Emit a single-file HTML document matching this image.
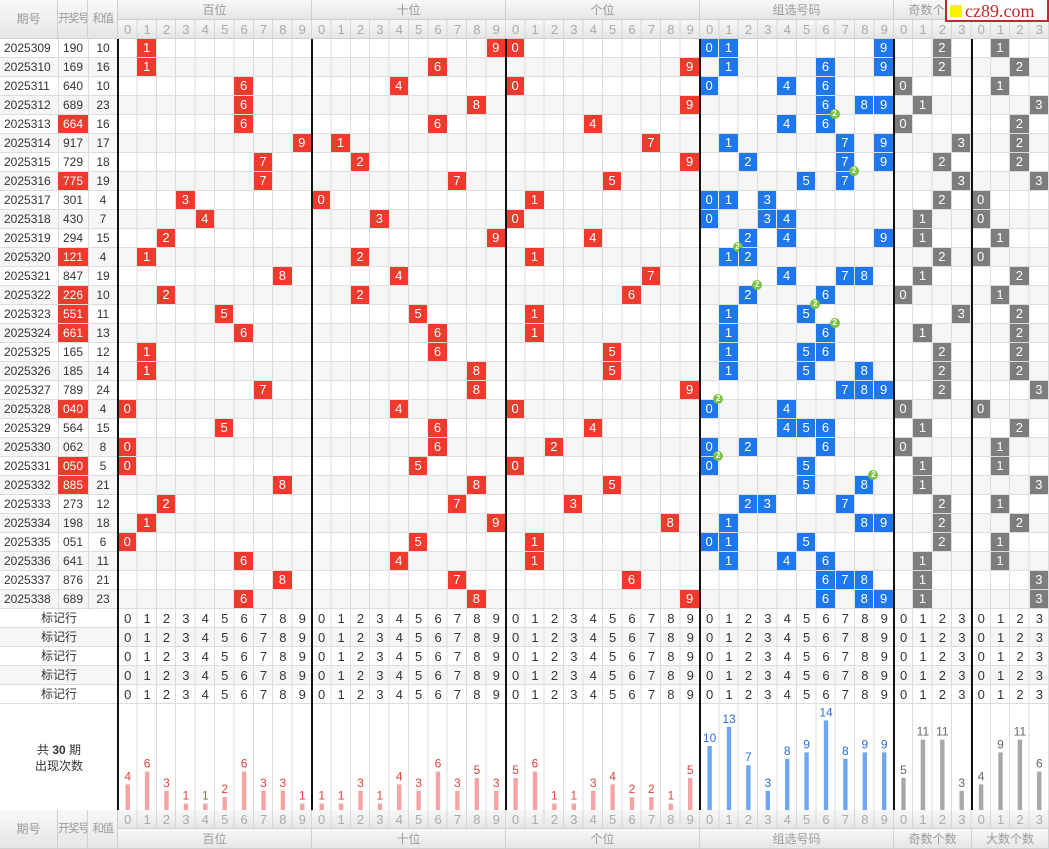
<!DOCTYPE html>
<html><head><meta charset="utf-8"><style>
*{margin:0;padding:0;box-sizing:border-box}
html,body{width:1049px;height:849px;overflow:hidden}
body{position:relative;background:#fff;font-family:"Liberation Sans","Noto Sans CJK SC",sans-serif;color:#333}
.abs{position:absolute}
.hd{position:absolute;background:linear-gradient(#f8f8f8,#e6e6e6);color:#9a9a9a;font-size:12px;text-align:center;border-right:1px solid #d0d0d0;border-bottom:1px solid #d0d0d0;white-space:nowrap;overflow:hidden}
.hd.n{letter-spacing:-1.5px;font-size:11.5px}
.grid{position:absolute;left:118px;top:39px;width:931px;height:771px;
background:repeating-linear-gradient(90deg,transparent 0,transparent 18.396px,#dcdcdc 18.396px,#dcdcdc 19.396px)}
.hl{position:absolute;left:0;top:39px;width:1049px;height:665px;
background:repeating-linear-gradient(180deg,transparent 0,transparent 18px,#dcdcdc 18px,#dcdcdc 19px),repeating-linear-gradient(180deg,#fff 0,#fff 19px,#f6f6f6 19px,#f6f6f6 38px)}
.sep{position:absolute;top:39px;height:771px;width:2px;background:#111}
.lv{position:absolute;top:39px;height:571px;width:1px;background:#dcdcdc}
.L{position:absolute;left:0;height:19px;display:flex;font-size:12px;line-height:19px}
.L span{display:block;text-align:center}
.L span:nth-child(1){width:58px;text-align:left;padding-left:4px}
.L span:nth-child(2){width:30px}
.L span:nth-child(3){width:30px}
.L span.h{background:#f03a2e;color:#fff;height:18px}
.c{position:absolute;width:18.4px;height:18px;left:calc(118px + var(--c)*19.396px);top:calc(39px + var(--r)*19px);color:#fff;font-size:13px;line-height:18px;text-align:center;font-style:normal}
.r{background:#f03a2e}.b{background:#1f77ee}.g{background:#7d7d7d}
.bd{position:absolute;right:-5px;top:-6px;width:10px;height:10px;border-radius:50%;background:#7cc242;color:#fff;font-size:8px;line-height:10px;text-align:center;font-weight:bold}
.dg{position:absolute;left:118px;white-space:nowrap;font-size:13px;letter-spacing:12.168px;padding-left:6.08px;line-height:19px}
.mk{position:absolute;left:0;width:118px;text-align:center;font-size:12px;line-height:19px}
</style></head><body>
<div class="hl"></div>
<div class="grid"></div>
<div class="lv" style="left:58px"></div><div class="lv" style="left:88px"></div>
<div class="abs" style="left:0;top:704px;width:118px;height:106px;background:#fff"></div>
<div class="abs" style="left:0;top:608px;width:1049px;height:1px;background:#dcdcdc"></div>
<div class="abs" style="left:0;top:703px;width:1049px;height:1px;background:#dcdcdc"></div>

<!-- header -->
<div class="hd" style="left:0;top:0;width:58px;height:39px;line-height:39px">期号</div>
<div class="hd n" style="left:58px;top:0;width:30px;height:39px;line-height:39px">开奖号</div>
<div class="hd n" style="left:88px;top:0;width:30px;height:39px;line-height:39px">和值</div>
<div class="hd" style="left:118px;top:0;width:194px;height:20px;line-height:20px">百位</div>
<div class="hd" style="left:312px;top:0;width:194px;height:20px;line-height:20px">十位</div>
<div class="hd" style="left:506px;top:0;width:194px;height:20px;line-height:20px">个位</div>
<div class="hd" style="left:700px;top:0;width:194px;height:20px;line-height:20px">组选号码</div>
<div class="hd" style="left:894px;top:0;width:78px;height:20px;line-height:20px">奇数个数</div>
<div class="hd" style="left:972px;top:0;width:77px;height:20px;line-height:20px">大数个数</div>
<div class="hd" style="left:118px;top:20px;width:931px;height:19px;border-right:none;background:repeating-linear-gradient(90deg,transparent 0,transparent 18.396px,#d6d6d6 18.396px,#d6d6d6 19.396px),linear-gradient(#f8f8f8,#e6e6e6)"></div>
<div class="dg" style="top:20px;color:#aaa">012345678901234567890123456789012345678901230123</div>

<!-- footer -->
<div class="hd" style="left:0;top:810px;width:58px;height:39px;line-height:39px">期号</div>
<div class="hd n" style="left:58px;top:810px;width:30px;height:39px;line-height:39px">开奖号</div>
<div class="hd n" style="left:88px;top:810px;width:30px;height:39px;line-height:39px">和值</div>
<div class="hd" style="left:118px;top:810px;width:931px;height:19px;border-right:none;background:repeating-linear-gradient(90deg,transparent 0,transparent 18.396px,#d6d6d6 18.396px,#d6d6d6 19.396px),linear-gradient(#f8f8f8,#e6e6e6)"></div>
<div class="dg" style="top:810px;color:#aaa">012345678901234567890123456789012345678901230123</div>
<div class="hd" style="left:118px;top:829px;width:194px;height:20px;line-height:20px">百位</div>
<div class="hd" style="left:312px;top:829px;width:194px;height:20px;line-height:20px">十位</div>
<div class="hd" style="left:506px;top:829px;width:194px;height:20px;line-height:20px">个位</div>
<div class="hd" style="left:700px;top:829px;width:194px;height:20px;line-height:20px">组选号码</div>
<div class="hd" style="left:894px;top:829px;width:78px;height:20px;line-height:20px">奇数个数</div>
<div class="hd" style="left:972px;top:829px;width:77px;height:20px;line-height:20px">大数个数</div>

<!-- left data -->
<div class="L" style="top:39px"><span>2025309</span><span>190</span><span>10</span></div>
<div class="L" style="top:58px"><span>2025310</span><span>169</span><span>16</span></div>
<div class="L" style="top:77px"><span>2025311</span><span>640</span><span>10</span></div>
<div class="L" style="top:96px"><span>2025312</span><span>689</span><span>23</span></div>
<div class="L" style="top:115px"><span>2025313</span><span class="h">664</span><span>16</span></div>
<div class="L" style="top:134px"><span>2025314</span><span>917</span><span>17</span></div>
<div class="L" style="top:153px"><span>2025315</span><span>729</span><span>18</span></div>
<div class="L" style="top:172px"><span>2025316</span><span class="h">775</span><span>19</span></div>
<div class="L" style="top:191px"><span>2025317</span><span>301</span><span>4</span></div>
<div class="L" style="top:210px"><span>2025318</span><span>430</span><span>7</span></div>
<div class="L" style="top:229px"><span>2025319</span><span>294</span><span>15</span></div>
<div class="L" style="top:248px"><span>2025320</span><span class="h">121</span><span>4</span></div>
<div class="L" style="top:267px"><span>2025321</span><span>847</span><span>19</span></div>
<div class="L" style="top:286px"><span>2025322</span><span class="h">226</span><span>10</span></div>
<div class="L" style="top:305px"><span>2025323</span><span class="h">551</span><span>11</span></div>
<div class="L" style="top:324px"><span>2025324</span><span class="h">661</span><span>13</span></div>
<div class="L" style="top:343px"><span>2025325</span><span>165</span><span>12</span></div>
<div class="L" style="top:362px"><span>2025326</span><span>185</span><span>14</span></div>
<div class="L" style="top:381px"><span>2025327</span><span>789</span><span>24</span></div>
<div class="L" style="top:400px"><span>2025328</span><span class="h">040</span><span>4</span></div>
<div class="L" style="top:419px"><span>2025329</span><span>564</span><span>15</span></div>
<div class="L" style="top:438px"><span>2025330</span><span>062</span><span>8</span></div>
<div class="L" style="top:457px"><span>2025331</span><span class="h">050</span><span>5</span></div>
<div class="L" style="top:476px"><span>2025332</span><span class="h">885</span><span>21</span></div>
<div class="L" style="top:495px"><span>2025333</span><span>273</span><span>12</span></div>
<div class="L" style="top:514px"><span>2025334</span><span>198</span><span>18</span></div>
<div class="L" style="top:533px"><span>2025335</span><span>051</span><span>6</span></div>
<div class="L" style="top:552px"><span>2025336</span><span>641</span><span>11</span></div>
<div class="L" style="top:571px"><span>2025337</span><span>876</span><span>21</span></div>
<div class="L" style="top:590px"><span>2025338</span><span>689</span><span>23</span></div>

<!-- cells -->
<i class="c r" style="--c:1;--r:0">1</i><i class="c r" style="--c:19;--r:0">9</i><i class="c r" style="--c:20;--r:0">0</i><i class="c b" style="--c:30;--r:0">0</i><i class="c b" style="--c:31;--r:0">1</i><i class="c b" style="--c:39;--r:0">9</i><i class="c g" style="--c:42;--r:0">2</i><i class="c g" style="--c:45;--r:0">1</i>
<i class="c r" style="--c:1;--r:1">1</i><i class="c r" style="--c:16;--r:1">6</i><i class="c r" style="--c:29;--r:1">9</i><i class="c b" style="--c:31;--r:1">1</i><i class="c b" style="--c:36;--r:1">6</i><i class="c b" style="--c:39;--r:1">9</i><i class="c g" style="--c:42;--r:1">2</i><i class="c g" style="--c:46;--r:1">2</i>
<i class="c r" style="--c:6;--r:2">6</i><i class="c r" style="--c:14;--r:2">4</i><i class="c r" style="--c:20;--r:2">0</i><i class="c b" style="--c:30;--r:2">0</i><i class="c b" style="--c:34;--r:2">4</i><i class="c b" style="--c:36;--r:2">6</i><i class="c g" style="--c:40;--r:2">0</i><i class="c g" style="--c:45;--r:2">1</i>
<i class="c r" style="--c:6;--r:3">6</i><i class="c r" style="--c:18;--r:3">8</i><i class="c r" style="--c:29;--r:3">9</i><i class="c b" style="--c:36;--r:3">6</i><i class="c b" style="--c:38;--r:3">8</i><i class="c b" style="--c:39;--r:3">9</i><i class="c g" style="--c:41;--r:3">1</i><i class="c g" style="--c:47;--r:3">3</i>
<i class="c r" style="--c:6;--r:4">6</i><i class="c r" style="--c:16;--r:4">6</i><i class="c r" style="--c:24;--r:4">4</i><i class="c b" style="--c:34;--r:4">4</i><i class="c b" style="--c:36;--r:4">6<b class="bd">2</b></i><i class="c g" style="--c:40;--r:4">0</i><i class="c g" style="--c:46;--r:4">2</i>
<i class="c r" style="--c:9;--r:5">9</i><i class="c r" style="--c:11;--r:5">1</i><i class="c r" style="--c:27;--r:5">7</i><i class="c b" style="--c:31;--r:5">1</i><i class="c b" style="--c:37;--r:5">7</i><i class="c b" style="--c:39;--r:5">9</i><i class="c g" style="--c:43;--r:5">3</i><i class="c g" style="--c:46;--r:5">2</i>
<i class="c r" style="--c:7;--r:6">7</i><i class="c r" style="--c:12;--r:6">2</i><i class="c r" style="--c:29;--r:6">9</i><i class="c b" style="--c:32;--r:6">2</i><i class="c b" style="--c:37;--r:6">7</i><i class="c b" style="--c:39;--r:6">9</i><i class="c g" style="--c:42;--r:6">2</i><i class="c g" style="--c:46;--r:6">2</i>
<i class="c r" style="--c:7;--r:7">7</i><i class="c r" style="--c:17;--r:7">7</i><i class="c r" style="--c:25;--r:7">5</i><i class="c b" style="--c:35;--r:7">5</i><i class="c b" style="--c:37;--r:7">7<b class="bd">2</b></i><i class="c g" style="--c:43;--r:7">3</i><i class="c g" style="--c:47;--r:7">3</i>
<i class="c r" style="--c:3;--r:8">3</i><i class="c r" style="--c:10;--r:8">0</i><i class="c r" style="--c:21;--r:8">1</i><i class="c b" style="--c:30;--r:8">0</i><i class="c b" style="--c:31;--r:8">1</i><i class="c b" style="--c:33;--r:8">3</i><i class="c g" style="--c:42;--r:8">2</i><i class="c g" style="--c:44;--r:8">0</i>
<i class="c r" style="--c:4;--r:9">4</i><i class="c r" style="--c:13;--r:9">3</i><i class="c r" style="--c:20;--r:9">0</i><i class="c b" style="--c:30;--r:9">0</i><i class="c b" style="--c:33;--r:9">3</i><i class="c b" style="--c:34;--r:9">4</i><i class="c g" style="--c:41;--r:9">1</i><i class="c g" style="--c:44;--r:9">0</i>
<i class="c r" style="--c:2;--r:10">2</i><i class="c r" style="--c:19;--r:10">9</i><i class="c r" style="--c:24;--r:10">4</i><i class="c b" style="--c:32;--r:10">2</i><i class="c b" style="--c:34;--r:10">4</i><i class="c b" style="--c:39;--r:10">9</i><i class="c g" style="--c:41;--r:10">1</i><i class="c g" style="--c:45;--r:10">1</i>
<i class="c r" style="--c:1;--r:11">1</i><i class="c r" style="--c:12;--r:11">2</i><i class="c r" style="--c:21;--r:11">1</i><i class="c b" style="--c:31;--r:11">1<b class="bd">2</b></i><i class="c b" style="--c:32;--r:11">2</i><i class="c g" style="--c:42;--r:11">2</i><i class="c g" style="--c:44;--r:11">0</i>
<i class="c r" style="--c:8;--r:12">8</i><i class="c r" style="--c:14;--r:12">4</i><i class="c r" style="--c:27;--r:12">7</i><i class="c b" style="--c:34;--r:12">4</i><i class="c b" style="--c:37;--r:12">7</i><i class="c b" style="--c:38;--r:12">8</i><i class="c g" style="--c:41;--r:12">1</i><i class="c g" style="--c:46;--r:12">2</i>
<i class="c r" style="--c:2;--r:13">2</i><i class="c r" style="--c:12;--r:13">2</i><i class="c r" style="--c:26;--r:13">6</i><i class="c b" style="--c:32;--r:13">2<b class="bd">2</b></i><i class="c b" style="--c:36;--r:13">6</i><i class="c g" style="--c:40;--r:13">0</i><i class="c g" style="--c:45;--r:13">1</i>
<i class="c r" style="--c:5;--r:14">5</i><i class="c r" style="--c:15;--r:14">5</i><i class="c r" style="--c:21;--r:14">1</i><i class="c b" style="--c:31;--r:14">1</i><i class="c b" style="--c:35;--r:14">5<b class="bd">2</b></i><i class="c g" style="--c:43;--r:14">3</i><i class="c g" style="--c:46;--r:14">2</i>
<i class="c r" style="--c:6;--r:15">6</i><i class="c r" style="--c:16;--r:15">6</i><i class="c r" style="--c:21;--r:15">1</i><i class="c b" style="--c:31;--r:15">1</i><i class="c b" style="--c:36;--r:15">6<b class="bd">2</b></i><i class="c g" style="--c:41;--r:15">1</i><i class="c g" style="--c:46;--r:15">2</i>
<i class="c r" style="--c:1;--r:16">1</i><i class="c r" style="--c:16;--r:16">6</i><i class="c r" style="--c:25;--r:16">5</i><i class="c b" style="--c:31;--r:16">1</i><i class="c b" style="--c:35;--r:16">5</i><i class="c b" style="--c:36;--r:16">6</i><i class="c g" style="--c:42;--r:16">2</i><i class="c g" style="--c:46;--r:16">2</i>
<i class="c r" style="--c:1;--r:17">1</i><i class="c r" style="--c:18;--r:17">8</i><i class="c r" style="--c:25;--r:17">5</i><i class="c b" style="--c:31;--r:17">1</i><i class="c b" style="--c:35;--r:17">5</i><i class="c b" style="--c:38;--r:17">8</i><i class="c g" style="--c:42;--r:17">2</i><i class="c g" style="--c:46;--r:17">2</i>
<i class="c r" style="--c:7;--r:18">7</i><i class="c r" style="--c:18;--r:18">8</i><i class="c r" style="--c:29;--r:18">9</i><i class="c b" style="--c:37;--r:18">7</i><i class="c b" style="--c:38;--r:18">8</i><i class="c b" style="--c:39;--r:18">9</i><i class="c g" style="--c:42;--r:18">2</i><i class="c g" style="--c:47;--r:18">3</i>
<i class="c r" style="--c:0;--r:19">0</i><i class="c r" style="--c:14;--r:19">4</i><i class="c r" style="--c:20;--r:19">0</i><i class="c b" style="--c:30;--r:19">0<b class="bd">2</b></i><i class="c b" style="--c:34;--r:19">4</i><i class="c g" style="--c:40;--r:19">0</i><i class="c g" style="--c:44;--r:19">0</i>
<i class="c r" style="--c:5;--r:20">5</i><i class="c r" style="--c:16;--r:20">6</i><i class="c r" style="--c:24;--r:20">4</i><i class="c b" style="--c:34;--r:20">4</i><i class="c b" style="--c:35;--r:20">5</i><i class="c b" style="--c:36;--r:20">6</i><i class="c g" style="--c:41;--r:20">1</i><i class="c g" style="--c:46;--r:20">2</i>
<i class="c r" style="--c:0;--r:21">0</i><i class="c r" style="--c:16;--r:21">6</i><i class="c r" style="--c:22;--r:21">2</i><i class="c b" style="--c:30;--r:21">0</i><i class="c b" style="--c:32;--r:21">2</i><i class="c b" style="--c:36;--r:21">6</i><i class="c g" style="--c:40;--r:21">0</i><i class="c g" style="--c:45;--r:21">1</i>
<i class="c r" style="--c:0;--r:22">0</i><i class="c r" style="--c:15;--r:22">5</i><i class="c r" style="--c:20;--r:22">0</i><i class="c b" style="--c:30;--r:22">0<b class="bd">2</b></i><i class="c b" style="--c:35;--r:22">5</i><i class="c g" style="--c:41;--r:22">1</i><i class="c g" style="--c:45;--r:22">1</i>
<i class="c r" style="--c:8;--r:23">8</i><i class="c r" style="--c:18;--r:23">8</i><i class="c r" style="--c:25;--r:23">5</i><i class="c b" style="--c:35;--r:23">5</i><i class="c b" style="--c:38;--r:23">8<b class="bd">2</b></i><i class="c g" style="--c:41;--r:23">1</i><i class="c g" style="--c:47;--r:23">3</i>
<i class="c r" style="--c:2;--r:24">2</i><i class="c r" style="--c:17;--r:24">7</i><i class="c r" style="--c:23;--r:24">3</i><i class="c b" style="--c:32;--r:24">2</i><i class="c b" style="--c:33;--r:24">3</i><i class="c b" style="--c:37;--r:24">7</i><i class="c g" style="--c:42;--r:24">2</i><i class="c g" style="--c:45;--r:24">1</i>
<i class="c r" style="--c:1;--r:25">1</i><i class="c r" style="--c:19;--r:25">9</i><i class="c r" style="--c:28;--r:25">8</i><i class="c b" style="--c:31;--r:25">1</i><i class="c b" style="--c:38;--r:25">8</i><i class="c b" style="--c:39;--r:25">9</i><i class="c g" style="--c:42;--r:25">2</i><i class="c g" style="--c:46;--r:25">2</i>
<i class="c r" style="--c:0;--r:26">0</i><i class="c r" style="--c:15;--r:26">5</i><i class="c r" style="--c:21;--r:26">1</i><i class="c b" style="--c:30;--r:26">0</i><i class="c b" style="--c:31;--r:26">1</i><i class="c b" style="--c:35;--r:26">5</i><i class="c g" style="--c:42;--r:26">2</i><i class="c g" style="--c:45;--r:26">1</i>
<i class="c r" style="--c:6;--r:27">6</i><i class="c r" style="--c:14;--r:27">4</i><i class="c r" style="--c:21;--r:27">1</i><i class="c b" style="--c:31;--r:27">1</i><i class="c b" style="--c:34;--r:27">4</i><i class="c b" style="--c:36;--r:27">6</i><i class="c g" style="--c:41;--r:27">1</i><i class="c g" style="--c:45;--r:27">1</i>
<i class="c r" style="--c:8;--r:28">8</i><i class="c r" style="--c:17;--r:28">7</i><i class="c r" style="--c:26;--r:28">6</i><i class="c b" style="--c:36;--r:28">6</i><i class="c b" style="--c:37;--r:28">7</i><i class="c b" style="--c:38;--r:28">8</i><i class="c g" style="--c:41;--r:28">1</i><i class="c g" style="--c:47;--r:28">3</i>
<i class="c r" style="--c:6;--r:29">6</i><i class="c r" style="--c:18;--r:29">8</i><i class="c r" style="--c:29;--r:29">9</i><i class="c b" style="--c:36;--r:29">6</i><i class="c b" style="--c:38;--r:29">8</i><i class="c b" style="--c:39;--r:29">9</i><i class="c g" style="--c:41;--r:29">1</i><i class="c g" style="--c:47;--r:29">3</i>

<!-- mark rows -->
<div class="mk" style="top:609px">标记行</div><div class="dg" style="top:609px">012345678901234567890123456789012345678901230123</div>
<div class="mk" style="top:628px">标记行</div><div class="dg" style="top:628px">012345678901234567890123456789012345678901230123</div>
<div class="mk" style="top:647px">标记行</div><div class="dg" style="top:647px">012345678901234567890123456789012345678901230123</div>
<div class="mk" style="top:666px">标记行</div><div class="dg" style="top:666px">012345678901234567890123456789012345678901230123</div>
<div class="mk" style="top:685px">标记行</div><div class="dg" style="top:685px">012345678901234567890123456789012345678901230123</div>

<div class="abs" style="left:0;top:742px;width:118px;text-align:center;font-size:12px;line-height:16px">共 <b>30</b> 期<br>出现次数</div>

<svg class="abs" style="left:0;top:0" width="1049" height="849" font-family="Liberation Sans, sans-serif" font-size="12" text-anchor="middle">
<g fill="#f5a3a3">
<rect x="125.5" y="784.4" width="4.4" height="25.6"/><rect x="144.9" y="771.6" width="4.4" height="38.4"/><rect x="164.3" y="790.8" width="4.4" height="19.2"/><rect x="183.7" y="803.6" width="4.4" height="6.4"/><rect x="203.1" y="803.6" width="4.4" height="6.4"/><rect x="222.5" y="797.2" width="4.4" height="12.8"/><rect x="241.9" y="771.6" width="4.4" height="38.4"/><rect x="261.3" y="790.8" width="4.4" height="19.2"/><rect x="280.7" y="790.8" width="4.4" height="19.2"/><rect x="300.1" y="803.6" width="4.4" height="6.4"/>
<rect x="319.5" y="803.6" width="4.4" height="6.4"/><rect x="338.9" y="803.6" width="4.4" height="6.4"/><rect x="358.3" y="790.8" width="4.4" height="19.2"/><rect x="377.7" y="803.6" width="4.4" height="6.4"/><rect x="397.0" y="784.4" width="4.4" height="25.6"/><rect x="416.4" y="790.8" width="4.4" height="19.2"/><rect x="435.8" y="771.6" width="4.4" height="38.4"/><rect x="455.2" y="790.8" width="4.4" height="19.2"/><rect x="474.6" y="778" width="4.4" height="32"/><rect x="494.0" y="790.8" width="4.4" height="19.2"/>
<rect x="513.4" y="778" width="4.4" height="32"/><rect x="532.8" y="771.6" width="4.4" height="38.4"/><rect x="552.2" y="803.6" width="4.4" height="6.4"/><rect x="571.6" y="803.6" width="4.4" height="6.4"/><rect x="591.0" y="790.8" width="4.4" height="19.2"/><rect x="610.4" y="784.4" width="4.4" height="25.6"/><rect x="629.8" y="797.2" width="4.4" height="12.8"/><rect x="649.2" y="797.2" width="4.4" height="12.8"/><rect x="668.6" y="803.6" width="4.4" height="6.4"/><rect x="688.0" y="778" width="4.4" height="32"/>
</g>
<g fill="#e0413b">
<text x="127.7" y="780.4">4</text><text x="147.1" y="767.6">6</text><text x="166.5" y="786.8">3</text><text x="185.9" y="799.6">1</text><text x="205.3" y="799.6">1</text><text x="224.7" y="793.2">2</text><text x="244.1" y="767.6">6</text><text x="263.5" y="786.8">3</text><text x="282.9" y="786.8">3</text><text x="302.3" y="799.6">1</text>
<text x="321.7" y="799.6">1</text><text x="341.1" y="799.6">1</text><text x="360.5" y="786.8">3</text><text x="379.9" y="799.6">1</text><text x="399.2" y="780.4">4</text><text x="418.6" y="786.8">3</text><text x="438.0" y="767.6">6</text><text x="457.4" y="786.8">3</text><text x="476.8" y="774">5</text><text x="496.2" y="786.8">3</text>
<text x="515.6" y="774">5</text><text x="535.0" y="767.6">6</text><text x="554.4" y="799.6">1</text><text x="573.8" y="799.6">1</text><text x="593.2" y="786.8">3</text><text x="612.6" y="780.4">4</text><text x="632.0" y="793.2">2</text><text x="651.4" y="793.2">2</text><text x="670.8" y="799.6">1</text><text x="690.2" y="774">5</text>
</g>
<g fill="#6fa7f2">
<rect x="707.4" y="746" width="4.4" height="64"/><rect x="726.8" y="726.8" width="4.4" height="83.2"/><rect x="746.2" y="765.2" width="4.4" height="44.8"/><rect x="765.6" y="790.8" width="4.4" height="19.2"/><rect x="785.0" y="758.8" width="4.4" height="51.2"/><rect x="804.4" y="752.4" width="4.4" height="57.6"/><rect x="823.8" y="720.4" width="4.4" height="89.6"/><rect x="843.2" y="758.8" width="4.4" height="51.2"/><rect x="862.6" y="752.4" width="4.4" height="57.6"/><rect x="882.0" y="752.4" width="4.4" height="57.6"/>
</g>
<g fill="#2b6fd6">
<text x="709.6" y="742">10</text><text x="729.0" y="722.8">13</text><text x="748.4" y="761.2">7</text><text x="767.8" y="786.8">3</text><text x="787.2" y="754.8">8</text><text x="806.6" y="748.4">9</text><text x="826.0" y="716.4">14</text><text x="845.4" y="754.8">8</text><text x="864.8" y="748.4">9</text><text x="884.2" y="748.4">9</text>
</g>
<g fill="#a8a8a8">
<rect x="901.3" y="778" width="4.4" height="32"/><rect x="920.7" y="739.6" width="4.4" height="70.4"/><rect x="940.1" y="739.6" width="4.4" height="70.4"/><rect x="959.5" y="790.8" width="4.4" height="19.2"/>
<rect x="978.9" y="784.4" width="4.4" height="25.6"/><rect x="998.3" y="752.4" width="4.4" height="57.6"/><rect x="1017.7" y="739.6" width="4.4" height="70.4"/><rect x="1037.1" y="771.6" width="4.4" height="38.4"/>
</g>
<g fill="#666">
<text x="903.5" y="774">5</text><text x="922.9" y="735.6">11</text><text x="942.3" y="735.6">11</text><text x="961.7" y="786.8">3</text>
<text x="981.1" y="780.4">4</text><text x="1000.5" y="748.4">9</text><text x="1019.9" y="735.6">11</text><text x="1039.3" y="767.6">6</text>
</g>
</svg>

<!-- separators -->
<div class="sep" style="left:117px"></div><div class="sep" style="left:311px"></div><div class="sep" style="left:505px"></div><div class="sep" style="left:699px"></div><div class="sep" style="left:893px"></div><div class="sep" style="left:971px"></div>

<!-- logo -->
<div class="abs" style="left:945px;top:0;width:104px;height:22px;background:#fff;border:2px solid #c0282d;border-top:none"></div>
<div class="abs" style="left:950px;top:5px;width:12px;height:12px;background:#ffef00"></div>
<div class="abs" style="left:965px;top:0;font-family:'Liberation Serif',serif;font-size:18px;line-height:22px;color:#c0282d">cz89.com</div>
</body></html>
